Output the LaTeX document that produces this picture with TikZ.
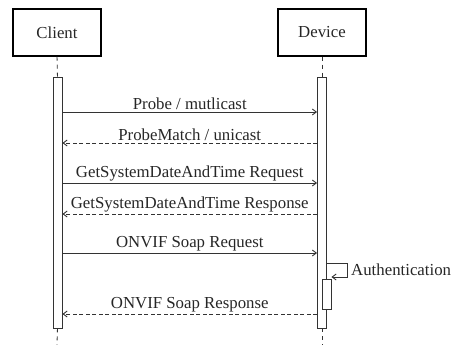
\documentclass[tikz,border=0pt]{standalone}
\usepackage{fontspec}
\setmainfont{Liberation Serif}
\usetikzlibrary{arrows.meta}
\begin{document}
\begin{tikzpicture}[x=1pt,y=-1pt,
  txt/.style={font=\fontsize{16.8}{19}\selectfont,text=black!85},
  actor/.style={txt,draw=black,line width=1.2pt,minimum width=88pt,minimum height=47pt,inner sep=0pt},
  bar/.style={draw=black!80,line width=0.9pt,fill=white,minimum width=9pt,inner sep=0pt},
  life/.style={draw=black!80,line width=0.9pt,dash pattern=on 4pt off 4pt},
  msg/.style={draw=black!80,line width=0.9pt,-{Straight Barb[length=4pt,width=6pt]}},
  reply/.style={msg,dash pattern=on 4pt off 2.5pt},
  lbl/.style={txt,above,inner sep=1.5pt}]
\useasboundingbox (0,0) rectangle (453,345);
\node[actor] (client) at (57,32.5) {Client};
\node[actor] (device) at (322,32.5) {Device};
\node[bar,minimum height=251pt] (cbar) at (57.5,202.5) {};
\node[bar,minimum height=251pt] (dbar) at (322,202.5) {};
\node[bar,minimum height=30pt] (nbar) at (326.5,294) {};
\coordinate (cend) at (57,345);
\coordinate (dend) at (322,345);
\draw[life] (client.south) -- (cbar.north);
\draw[life] (device.south) -- (dbar.north);
\draw[life] (cbar.south) -- (cend);
\draw[life] (dbar.south) -- (dend);
% messages
\draw[msg] (cbar.east |- 0,112) -- node[lbl] {Probe / mutlicast} (dbar.west |- 0,112);
\draw[reply] (dbar.west |- 0,143) -- node[lbl] {ProbeMatch / unicast} (cbar.east |- 0,143);
\draw[msg] (cbar.east |- 0,183) -- node[lbl] {GetSystemDateAndTime Request} (dbar.west |- 0,183);
\draw[reply] (dbar.west |- 0,214) -- node[lbl] {GetSystemDateAndTime Response} (cbar.east |- 0,214);
\draw[msg] (cbar.east |- 0,253) -- node[lbl] {ONVIF Soap Request} (dbar.west |- 0,253);
\draw[msg] (dbar.east |- 0,263) -- (347,263) -- (347,277) -- (nbar.east |- 0,277);
\node[txt,anchor=west,inner sep=0pt] (authlbl) at (351,270) {Authentication};
\draw[reply] (dbar.west |- 0,314) -- node[lbl] {ONVIF Soap Response} (cbar.east |- 0,314);
\end{tikzpicture}
\end{document}
